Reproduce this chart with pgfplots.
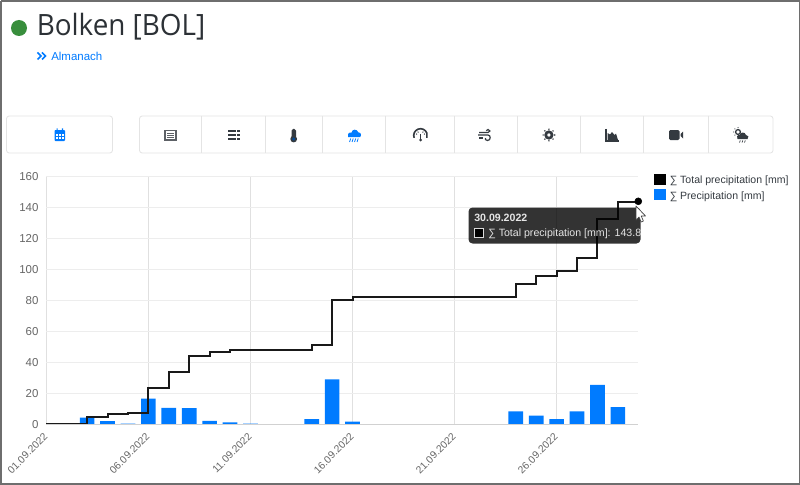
\documentclass[border=0pt]{standalone}
\usepackage{fontspec}
\setmainfont{Liberation Sans}
\newfontfamily\headfont[FakeStretch=0.95]{Open Sans}
\usepackage{pgfplots}
\pgfplotsset{compat=1.18}
\usepackage{pgfplotstable}
\usetikzlibrary{calc}
\definecolor{rainblue}{HTML}{007BFF}
\definecolor{lightgrid}{HTML}{EDEDED}
\definecolor{vgrid}{HTML}{E0E0E0}
\definecolor{ticktext}{HTML}{666666}
\definecolor{btnline}{HTML}{E4E4E4}
\definecolor{icondark}{HTML}{343A40}
\definecolor{frame}{HTML}{6E6E6E}
\definecolor{dotgreen}{HTML}{388E3C}

\pgfplotstableread{
day val
2 4.2
3 2.0
4 0.3
5 16.5
6 10.5
7 10.3
8 2.2
9 1.1
10 0.3
13 3.3
14 29.0
15 1.7
23 8.2
24 5.5
25 3.2
26 8.2
27 25.3
28 11.0
}\dailyrain

\pgfplotstableread{
day val
0 0
1 0.3
2 4.5
3 6.7
4 7.0
5 23.5
6 34.0
7 44.3
8 46.5
9 47.6
10 48.0
13 51.3
14 80.4
15 82.1
23 90.3
24 95.8
25 99.0
26 107.2
27 132.5
28 143.5
29 143.8
}\totalrain

\begin{document}
% 1 unit = 1 reference pixel, y runs downward
\begin{tikzpicture}[x=0.75pt,y=-0.75pt]
\path[use as bounding box] (0,0) rectangle (800,485);
\fill[white] (0,0) rectangle (800,485);

% page head
\fill[dotgreen] (19,28) circle (8);
\node[anchor=base west,inner sep=0pt,text=icondark!85!black] at (36.5,36) {\headfont\fontsize{22}{26}\selectfont Bolken [BOL]};
\draw[rainblue,line width=1.1pt] (37.5,52.5) -- (41,56) -- (37.5,59.5) (42,52.5) -- (45.5,56) -- (42,59.5);
\node[anchor=base west,inner sep=0pt,text=rainblue] at (51,60.5) {\fontsize{8.6}{11}\selectfont Almanach};

% buttons
\draw[btnline,line width=0.6pt,rounded corners=2pt] (6.5,116) rectangle (112.5,153);
\draw[btnline,line width=0.6pt,rounded corners=2pt] (139.5,116) rectangle (773,153);
\foreach \xx in {201.5,265.5,322.5,385,454.5,517.5,580,643,708.5}
  \draw[btnline,line width=0.6pt] (\xx,116) -- (\xx,153);

% calendar
\fill[rainblue,rounded corners=0.6pt] (54.5,130) rectangle (65,141);
\fill[rainblue] (56.5,128.5) rectangle (57.7,131) (61.8,128.5) rectangle (63,131);
\foreach \a in {56.3,59.2,62.1} \foreach \b in {134,137}
  \fill[white] (\a,\b) rectangle ++(1.7,1.7);
% list box
\draw[icondark!80,line width=0.8pt] (165,130.5) rectangle (176,140);
\draw[icondark!80,line width=0.6pt] (167,133) -- (174,133) (167,135.3) -- (174,135.3) (167,137.6) -- (174,137.6);
% bars
\foreach \b in {130.7,135,139.3} {
  \fill[icondark] (227.5,\b-1) rectangle (236,\b+1);
  \fill[icondark] (237.2,\b-1) rectangle (239.5,\b+1);
}
% thermometer
\fill[icondark,rounded corners=1.2pt] (291.5,129) rectangle (296,138);
\fill[icondark] (293.7,139) circle (3.4);
\fill[rainblue!60!black] (293.7,139) circle (1.6);
% rain cloud
\fill[rainblue] (348,137) -- (360,137) .. controls (362,136) and (361,132) .. (358.5,132.5) .. controls (357,128.5) and (352,129) .. (351.5,132.5) .. controls (348,132) and (347,135.5) .. (348,137) -- cycle;
\foreach \a in {349.5,352,354.5,357}
  \draw[rainblue,line width=0.6pt] (\a,142) -- (\a+1.2,138.5);
% gauge
\draw[icondark,line width=1.2pt] ($(420.5,135.5)+(160:6.8)$) arc (160:380:6.8);
\foreach \ang in {200,235,305,340}
  \fill[icondark] ($(420.5,135.5)+(\ang:4.2)$) circle (0.7);
\draw[icondark,line width=1.2pt] (420.5,140) -- (420.5,133.5);
\fill[icondark] (420.5,140) circle (1.5);
% wind
\draw[icondark,line width=0.9pt] (478,135) -- (488,135) .. controls (491,135) and (491,140.5) .. (487.5,140.5) .. controls (485.5,140.5) and (485,139) .. (485.5,138);
\draw[icondark,line width=0.9pt] (479,138) -- (483,138);
\draw[icondark,line width=0.9pt] (479,132.5) -- (488,132.5) .. controls (490.5,132.5) and (490.5,129.5) .. (488,129.5) .. controls (487,129.5) and (486.5,130) .. (486.3,130.7);
% gear
\draw[icondark,line width=2pt] (548.9,135) circle (3.2);
\foreach \ang in {0,45,...,315}
  \fill[icondark] ($(548.9,135)+(\ang:5.8)$) circle (0.85);
% area chart
\draw[icondark,line width=1pt] (606,129) -- (606,141) -- (618.5,141);
\fill[icondark] (607.5,140) -- (607.5,133) -- (610,134.5) -- (612,132) -- (614.5,135) -- (616,133.5) -- (618,140) -- cycle;
% video
\fill[icondark,rounded corners=1pt] (669,130) rectangle (679.5,140);
\fill[icondark] (680.5,134) -- (683,131.5) -- (683,138.5) -- (680.5,136) -- cycle;
% cloud and sun
\draw[icondark,line width=1pt] (738,132) circle (2.4);
\foreach \ang in {90,135,180,225,270}
  \fill[icondark] ($(738,132)+(\ang:4.4)$) circle (0.6);
\fill[icondark] (737.5,139) -- (747.5,139) .. controls (749.5,138) and (748.5,134.5) .. (746,135) .. controls (745,131.5) and (740,132) .. (739.8,135) .. controls (737,134.5) and (736,137.5) .. (737.5,139) -- cycle;
\foreach \a in {739.5,742,744.5}
  \draw[icondark,line width=0.5pt] (\a,142.5) -- (\a+0.8,140.5);

% chart
\begin{axis}[
  at={(34.725pt,-318.15pt)},anchor=south west,
  scale only axis,width=444pt,height=186pt,
  xmin=0,xmax=29,ymin=0,ymax=160,
  xtick={0,5,10,15,20,25},
  xticklabels={01.09.2022,06.09.2022,11.09.2022,16.09.2022,21.09.2022,26.09.2022},
  ytick distance=20,
  axis line style={draw=none},
  xmajorgrids,ymajorgrids,
  x grid style={vgrid,line width=0.45pt},
  y grid style={lightgrid,line width=0.6pt},
  tick style={draw=none},
  major tick length=0pt,
  /pgf/number format/assume math mode=true,
  xticklabel style={rotate=45,anchor=north east,font=\fontsize{7.7}{10}\selectfont,text=ticktext,inner sep=0pt,yshift=-2.6pt,xshift=-6pt},
  yticklabel style={font=\fontsize{8.6}{10}\selectfont,text=ticktext,inner sep=0pt,xshift=-5.7pt},
  clip=false,
]
\addplot[ybar,bar width=11pt,fill=rainblue,draw=none,forget plot] table[x=day,y=val] {\dailyrain};
\addplot[const plot mark left,black!90,line width=1.5pt,forget plot] table[x=day,y=val] {\totalrain};
\addplot[only marks,mark=*,mark size=2.6pt,mark options={fill=black,draw=black},forget plot] coordinates {(29,143.8)};
\draw[black!18,line width=0.8pt] (axis cs:0,0) -- (axis cs:29,0);
\end{axis}

% legend
\fill[black] (654.3,174) rectangle (665.7,185);
\fill[rainblue] (654.3,189) rectangle (665.7,200);
\node[anchor=base west,inner sep=0pt,text=icondark] at (669.5,183.5) {\fontsize{7.9}{10}\selectfont ∑ Total precipitation [mm]};
\node[anchor=base west,inner sep=0pt,text=icondark] at (669.5,199) {\fontsize{7.9}{10}\selectfont ∑ Precipitation [mm]};

% tooltip, black at 80% so the line still shows through
\fill[black,fill opacity=0.8,rounded corners=3pt] (468.5,207.5) rectangle (640.5,243.5);
\node[anchor=base west,inner sep=0pt,text=white!90!black] at (474,221) {\fontsize{7.95}{10}\selectfont\bfseries 30.09.2022};
\fill[white!85!black] (473.7,228) rectangle (483.5,238);
\fill[black] (474.5,228.8) rectangle (482.7,237.2);
\node[anchor=base west,inner sep=0pt,text=white!90!black] at (488,236.5) {\fontsize{7.95}{10}\selectfont ∑ Total precipitation [mm]: 143.8};

% cursor
\draw[black!75,fill=white,line width=0.5pt,line join=round] (636,206) -- (636,220) -- (639,217) -- (641.2,222) -- (643.4,221) -- (641.2,216) -- (645.5,216) -- cycle;

% window frame
\draw[frame,line width=1.5pt] (0.8,0.8) -- (0.8,484.2) -- (799.5,484.2) (0.8,0.8) -- (799.5,0.8);
\draw[frame,line width=0.8pt] (799.5,0.8) -- (799.5,484.2);
\end{tikzpicture}
\end{document}
